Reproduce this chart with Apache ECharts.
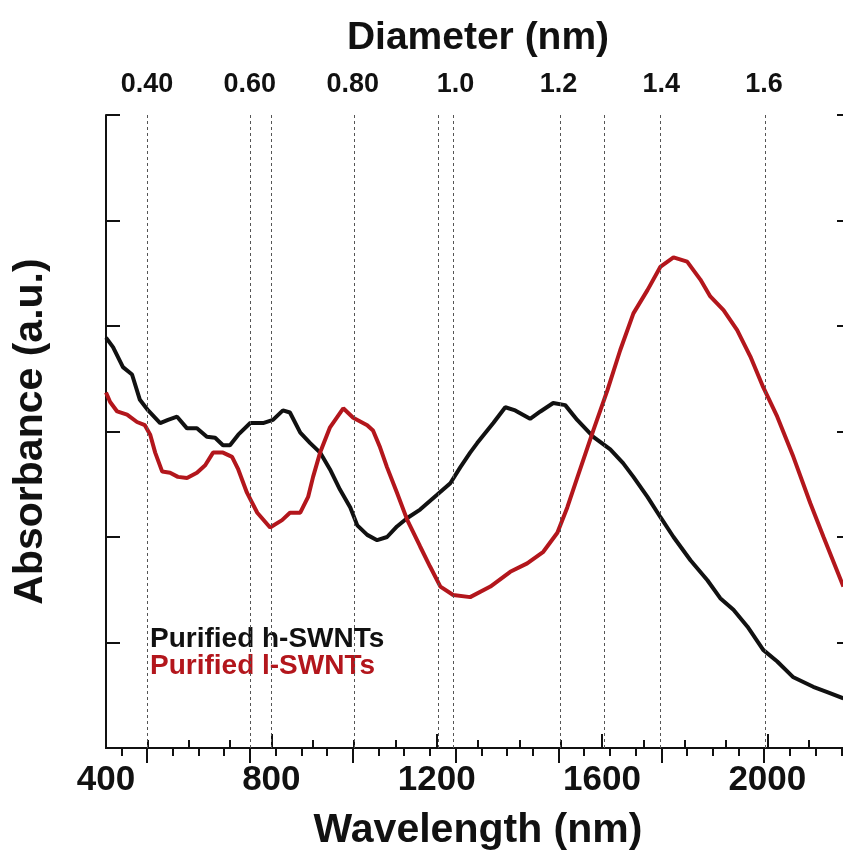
<!DOCTYPE html>
<html>
<head>
<meta charset="utf-8">
<script src="https://cdn.jsdelivr.net/npm/echarts@6/dist/echarts.min.js"></script>
<style>
  html, body { margin: 0; padding: 0; background: #fff; }
  #main { width: 843px; height: 859px; }
</style>
</head>
<body>
<div id="main"></div>
<script>
// purified h-SWNTs (black)
const hWavelength = [400, 417, 441, 463, 482, 502, 531, 550, 572, 596, 620, 644, 664, 683, 700, 720, 749, 780, 804, 828, 845, 870, 894, 918, 942, 966, 991, 1008, 1032, 1056, 1080, 1104, 1129, 1160, 1201, 1233, 1257, 1281, 1298, 1337, 1366, 1390, 1426, 1451, 1482, 1511, 1540, 1579, 1620, 1651, 1676, 1710, 1741, 1773, 1814, 1855, 1886, 1918, 1952, 1990, 2024, 2063, 2111, 2145, 2184];
const hAbsorbance = [3.89, 3.80, 3.61, 3.54, 3.30, 3.20, 3.08, 3.11, 3.14, 3.03, 3.03, 2.95, 2.94, 2.87, 2.87, 2.97, 3.08, 3.08, 3.11, 3.20, 3.18, 2.99, 2.89, 2.80, 2.64, 2.45, 2.28, 2.11, 2.02, 1.97, 2.00, 2.10, 2.18, 2.26, 2.40, 2.51, 2.66, 2.80, 2.89, 3.08, 3.23, 3.20, 3.12, 3.19, 3.27, 3.25, 3.11, 2.95, 2.83, 2.70, 2.57, 2.38, 2.19, 2.00, 1.78, 1.59, 1.42, 1.31, 1.15, 0.93, 0.82, 0.67, 0.58, 0.53, 0.47];

// purified l-SWNTs (red)
const lWavelength = [400, 410, 427, 451, 475, 494, 507, 519, 536, 555, 574, 596, 620, 640, 659, 683, 705, 720, 741, 766, 797, 826, 845, 870, 889, 901, 918, 942, 974, 998, 1032, 1046, 1063, 1080, 1104, 1129, 1160, 1184, 1209, 1240, 1281, 1330, 1378, 1419, 1458, 1492, 1516, 1540, 1579, 1613, 1644, 1676, 1710, 1741, 1773, 1806, 1838, 1862, 1894, 1927, 1959, 1990, 2024, 2063, 2104, 2136, 2184];
const lAbsorbance = [3.37, 3.28, 3.19, 3.16, 3.09, 3.06, 2.97, 2.80, 2.62, 2.61, 2.57, 2.56, 2.61, 2.68, 2.80, 2.80, 2.76, 2.64, 2.42, 2.23, 2.09, 2.16, 2.23, 2.23, 2.38, 2.57, 2.80, 3.04, 3.22, 3.13, 3.06, 3.01, 2.85, 2.66, 2.42, 2.16, 1.91, 1.72, 1.53, 1.45, 1.43, 1.53, 1.67, 1.75, 1.86, 2.04, 2.28, 2.56, 3.01, 3.39, 3.77, 4.12, 4.34, 4.56, 4.65, 4.61, 4.44, 4.28, 4.15, 3.96, 3.71, 3.42, 3.14, 2.76, 2.32, 2.00, 1.53];

// dashed guide lines (nm)
const guideLines = [500, 750, 800, 1000, 1205, 1240, 1500, 1605, 1740, 1995];

// top axis (diameter, nm)
const diameterMajor = [0.4, 0.6, 0.8, 1.0, 1.2, 1.4, 1.6];
const diameterMinor = [0.35, 0.45, 0.5, 0.55, 0.65, 0.7, 0.75, 0.85, 0.9, 0.95, 1.05, 1.1, 1.15, 1.25, 1.3, 1.35, 1.45, 1.5, 1.55, 1.65, 1.7, 1.75];

const legendNames = ['Purified h-SWNTs', 'Purified l-SWNTs'];
const colors = ['#111111', '#b3161c'];

const sans = '"Liberation Sans", Arial, sans-serif';

const gridBox = { left: 106, right: -7, top: 115, bottom: 111, outerBoundsMode: 'none', containLabel: false };
const dMin = 0.3203, dMax = 1.767;

const chart = echarts.init(document.getElementById('main'));

const option = {
    animation: false,
    backgroundColor: '#fff',
    grid: [
        Object.assign({}, gridBox),
        Object.assign({}, gridBox)
    ],
    xAxis: [
        {
            type: 'value', gridIndex: 0, position: 'bottom',
            min: 400, max: 2200, interval: 400,
            name: 'Wavelength (nm)', nameLocation: 'middle', nameGap: 62,
            nameTextStyle: { fontFamily: sans, fontWeight: 'bold', fontSize: 41, color: '#111' },
            axisLine: { lineStyle: { color: '#111', width: 2 } },
            axisTick: { inside: true, length: 14, lineStyle: { color: '#111', width: 2 } },
            minorTick: { show: true, splitNumber: 4, length: 8, lineStyle: { color: '#111', width: 2 } },
            axisLabel: {
                margin: 15, fontFamily: sans, fontWeight: 'bold', fontSize: 35, color: '#111',
                showMaxLabel: false, formatter: v => String(v)
            },
            splitLine: { show: false }
        },
        {
            type: 'value', gridIndex: 0, position: 'top',
            min: dMin, max: dMax,
            name: 'Diameter (nm)', nameLocation: 'middle', nameGap: 57,
            nameTextStyle: { fontFamily: sans, fontWeight: 'bold', fontSize: 39, color: '#111' },
            axisLine: { lineStyle: { color: '#111', width: 2 } },
            axisTick: { inside: true, length: 15, customValues: diameterMajor, lineStyle: { color: '#111', width: 2 } },
            axisLabel: {
                margin: 17, customValues: diameterMajor,
                fontFamily: sans, fontWeight: 'bold', fontSize: 27, color: '#111',
                formatter: v => v < 0.9 ? v.toFixed(2) : v.toFixed(1)
            },
            splitLine: { show: false }
        },
        {
            type: 'value', gridIndex: 1, position: 'top',
            min: dMin, max: dMax,
            axisLine: { show: false },
            axisTick: { inside: true, length: 8, customValues: diameterMinor, lineStyle: { color: '#111', width: 2 } },
            axisLabel: { show: false },
            splitLine: { show: false }
        }
    ],
    yAxis: [
        {
            type: 'value', gridIndex: 0, position: 'left',
            min: 0, max: 6, interval: 1,
            name: 'Absorbance (a.u.)', nameLocation: 'middle', nameGap: 55, nameRotate: 90,
            nameTextStyle: { fontFamily: sans, fontWeight: 'bold', fontSize: 41, color: '#111' },
            axisLine: { show: true, lineStyle: { color: '#111', width: 2 } },
            axisTick: { show: true, inside: true, length: 14, lineStyle: { color: '#111', width: 2 } },
            axisLabel: { show: false },
            splitLine: { show: false }
        },
        {
            type: 'value', gridIndex: 0, position: 'right',
            min: 0, max: 6, interval: 1,
            axisLine: { show: true, lineStyle: { color: '#111', width: 2 } },
            axisTick: { show: true, inside: true, length: 13, lineStyle: { color: '#111', width: 2 } },
            axisLabel: { show: false },
            splitLine: { show: false }
        },
        {
            type: 'value', gridIndex: 1, min: 0, max: 6, show: false
        }
    ],
    series: [
        {
            name: legendNames[0], type: 'line', xAxisIndex: 0, yAxisIndex: 0,
            data: hWavelength.map((w, i) => [w, hAbsorbance[i]]),
            showSymbol: false, z: 3,
            lineStyle: { color: colors[0], width: 4 },
            markLine: {
                silent: true, symbol: 'none', label: { show: false },
                lineStyle: { color: '#555', width: 1, type: [3, 3] },
                data: guideLines.map(v => ({ xAxis: v }))
            }
        },
        {
            name: legendNames[1], type: 'line', xAxisIndex: 0, yAxisIndex: 0,
            data: lWavelength.map((w, i) => [w, lAbsorbance[i]]),
            showSymbol: false, z: 4,
            lineStyle: { color: colors[1], width: 4 }
        }
    ],
    graphic: [
        {
            type: 'text', left: 150, top: 625,
            style: { text: legendNames[0], fill: colors[0], font: 'bold 28px ' + sans }
        },
        {
            type: 'text', left: 150, top: 652,
            style: { text: legendNames[1], fill: colors[1], font: 'bold 28px ' + sans }
        }
    ]
};

chart.setOption(option);
</script>
</body>
</html>
